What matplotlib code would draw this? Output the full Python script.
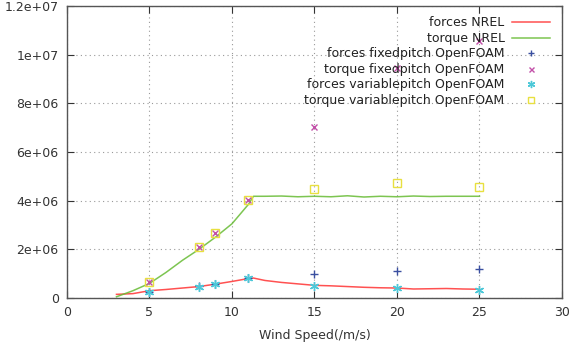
import numpy as np
import matplotlib
matplotlib.use("Agg")
import matplotlib.pyplot as plt

# NREL reference curves (wind speed in m/s)
nrel_speed = [3, 4, 5, 6, 7, 8, 9, 10, 11, 11.3, 12, 13, 14, 15, 16, 17, 18, 19,
              20, 21, 22, 23, 24, 25]
forces_nrel = [0.15e6, 0.18e6, 0.30e6, 0.35e6, 0.41e6, 0.47e6, 0.57e6, 0.68e6,
               0.80e6, 0.82e6, 0.72e6, 0.64e6, 0.58e6, 0.52e6, 0.50e6, 0.47e6,
               0.44e6, 0.42e6, 0.41e6, 0.37e6, 0.38e6, 0.39e6, 0.37e6, 0.36e6]
torque_nrel = [0.05e6, 0.30e6, 0.60e6, 1.05e6, 1.55e6, 2.00e6, 2.50e6, 3.05e6,
               3.85e6, 4.18e6, 4.18e6, 4.19e6, 4.16e6, 4.18e6, 4.16e6, 4.20e6,
               4.15e6, 4.18e6, 4.16e6, 4.19e6, 4.17e6, 4.18e6, 4.18e6, 4.18e6]

# OpenFOAM results
of_speed = [5, 8, 9, 11, 15, 20, 25]
forces_fixed = [0.25e6, 0.48e6, 0.59e6, 0.82e6, 1.00e6, 1.11e6, 1.19e6]
torque_fixed = [0.65e6, 2.11e6, 2.66e6, 4.01e6, 7.04e6, 9.44e6, 10.56e6]
forces_var = [0.23e6, 0.47e6, 0.58e6, 0.81e6, 0.51e6, 0.40e6, 0.32e6]
torque_var = [0.65e6, 2.11e6, 2.66e6, 4.01e6, 4.48e6, 4.71e6, 4.55e6]

fig = plt.figure(figsize=(5.71, 3.51), dpi=100)
ax = fig.add_axes([0.1173, 0.151, 0.8669, 0.832])

ax.plot(nrel_speed, forces_nrel, color="#ff3333", lw=1.1, alpha=0.85, label="forces NREL")
ax.plot(nrel_speed, torque_nrel, color="#66bb33", lw=1.1, alpha=0.85, label="torque NREL")
ax.plot(of_speed, forces_fixed, ls="none", marker="+", ms=6, mew=1.0,
        color="#3a4fa0", label="forces fixedpitch OpenFOAM")
ax.plot(of_speed, torque_fixed, ls="none", marker="x", ms=4.5, mew=1.0,
        color="#c24fa8", label="torque fixedpitch OpenFOAM")
ax.plot(of_speed, forces_var, ls="none", marker=(6, 2, 0), ms=6.5, mew=1.0,
        color="#4cc8d8", label="forces variablepitch OpenFOAM")
ax.plot(of_speed, torque_var, ls="none", marker="s", ms=5.5, mew=1.0,
        mfc="none", color="#e8e040", label="torque variablepitch OpenFOAM")

ax.set_xlim(0, 30)
ax.set_ylim(0, 1.2e7)
ax.set_xticks([0, 5, 10, 15, 20, 25, 30])
ax.set_yticks([0, 2e6, 4e6, 6e6, 8e6, 1e7, 1.2e7])
ax.set_yticklabels(["0", "2e+06", "4e+06", "6e+06", "8e+06", "1e+07", "1.2e+07"])
ax.tick_params(direction="in", top=True, right=True, length=5, labelsize=9,
               colors="#333333", pad=6)
for s in ax.spines.values():
    s.set_color("#555555")
    s.set_linewidth(1.0)
ax.grid(True, ls=(0, (1, 3)), color="#999999", lw=0.8)
ax.set_xlabel("Wind Speed(/m/s)", fontsize=9, color="#333333", labelpad=7)

leg = ax.legend(loc="upper right", frameon=False, markerfirst=False, fontsize=9,
                handlelength=3.0, handletextpad=0.6, labelspacing=0.2,
                markerscale=0.8, borderaxespad=0.2, bbox_to_anchor=(0.99, 0.99))
for t in leg.get_texts():
    t.set_color("#222222")

plt.savefig("out.png", dpi=100)
